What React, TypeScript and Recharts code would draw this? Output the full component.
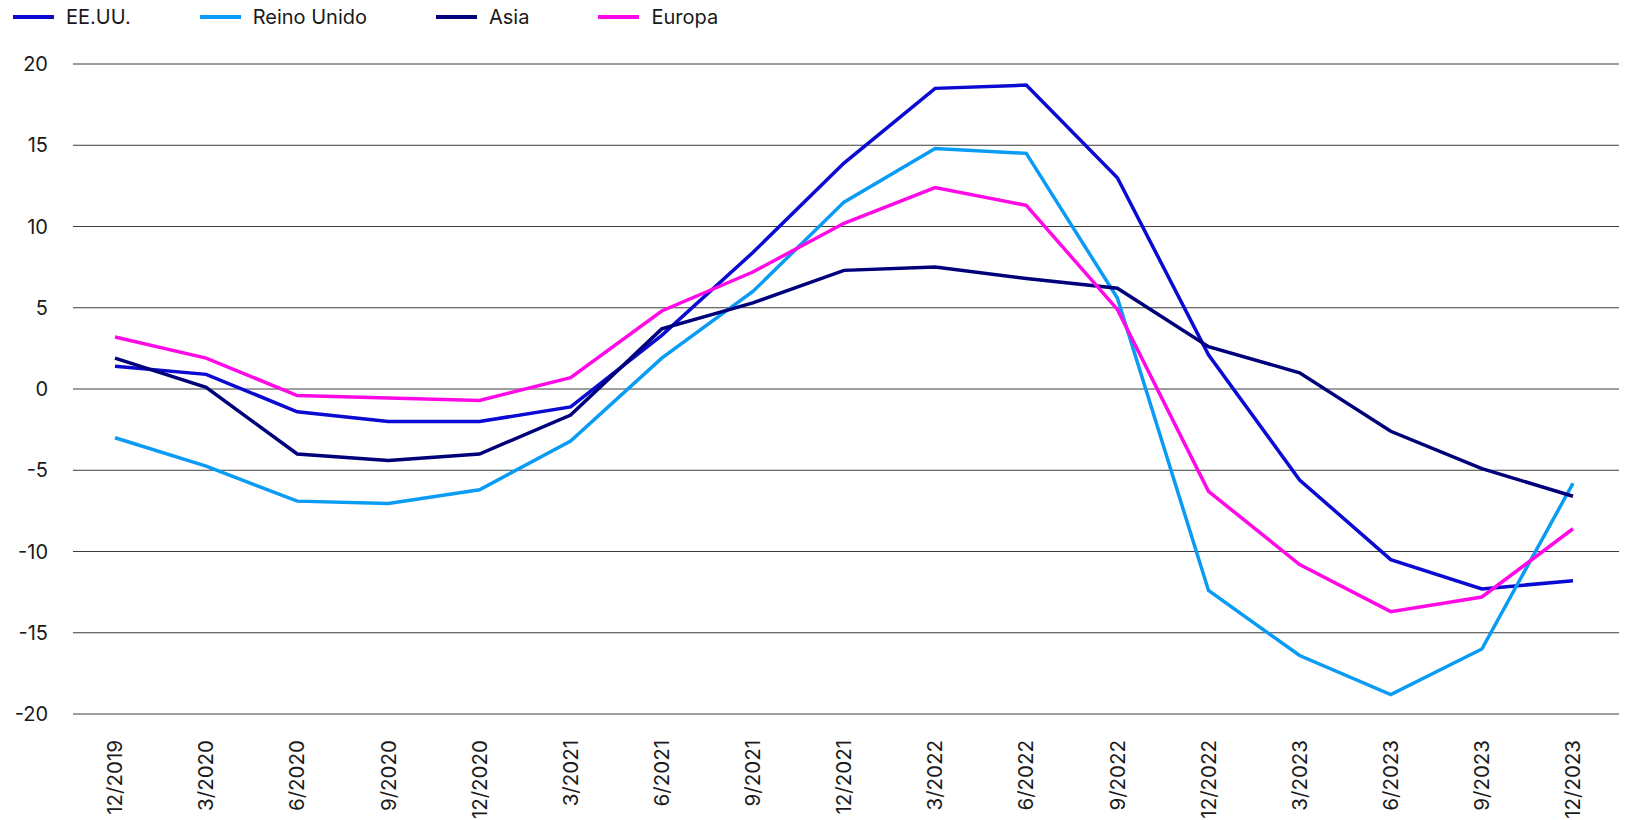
import { LineChart, Line, XAxis, YAxis, CartesianGrid } from "recharts";

const quarters = [
  "12/2019", "3/2020", "6/2020", "9/2020", "12/2020", "3/2021", "6/2021", "9/2021", "12/2021",
  "3/2022", "6/2022", "9/2022", "12/2022", "3/2023", "6/2023", "9/2023", "12/2023",
];

const usa = [1.4, 0.9, -1.4, -2.0, -2.0, -1.1, 3.3, 8.4, 13.9, 18.5, 18.7, 13.0, 2.1, -5.6, -10.5, -12.3, -11.8];
const uk = [-3.0, -4.75, -6.9, -7.05, -6.2, -3.2, 1.9, 6.0, 11.5, 14.8, 14.5, 5.6, -12.4, -16.4, -18.8, -16.0, -5.8];
const asia = [1.9, 0.1, -4.0, -4.4, -4.0, -1.6, 3.7, 5.3, 7.3, 7.5, 6.8, 6.2, 2.6, 1.0, -2.6, -4.9, -6.6];
const europe = [3.2, 1.9, -0.4, -0.55, -0.7, 0.7, 4.8, 7.2, 10.2, 12.4, 11.3, 4.9, -6.3, -10.8, -13.7, -12.8, -8.6];

const yTicks = [-20, -15, -10, -5, 0, 5, 10, 15, 20];

const series = [
  { key: "usa", name: "EE.UU.", color: "#0a0ad2" },
  { key: "uk", name: "Reino Unido", color: "#0a9cf5" },
  { key: "asia", name: "Asia", color: "#00007a" },
  { key: "europe", name: "Europa", color: "#ff0ae6" },
];

const data = quarters.map((q, i) => ({
  quarter: q,
  usa: usa[i],
  uk: uk[i],
  asia: asia[i],
  europe: europe[i],
}));

const FONT = "Inter, 'Noto Sans', sans-serif";

const XTick = ({ x, y, payload }: any) => (
  <g transform={`translate(${x},${y + 26}) rotate(-90)`}>
    <text x={0} y={0} dy="0.35em" textAnchor="end" fill="#1a1a1a" fontSize={20.5} fontFamily={FONT}>
      {payload.value}
    </text>
  </g>
);

export default function App() {
  return (
    <div style={{ position: "absolute", left: 0, top: 0, width: 1626, height: 820, fontFamily: FONT, background: "#fff" }}>
      <div style={{ position: "absolute", left: 13, top: 5, display: "flex", gap: 69, alignItems: "center" }}>
        {series.map((s) => (
          <div key={s.key} style={{ display: "flex", alignItems: "center", gap: 12 }}>
            <span style={{ display: "inline-block", width: 41, height: 4, background: s.color }} />
            <span style={{ fontSize: 20, color: "#1a1a1a", lineHeight: "24px" }}>{s.name}</span>
          </div>
        ))}
      </div>
      <LineChart width={1626} height={820} data={data} margin={{ top: 64, right: 7, left: 0, bottom: 0 }}>
        <CartesianGrid vertical={false} stroke="#3c3c3c" strokeWidth={1} />
        <XAxis dataKey="quarter" interval={0} height={106} padding={{ left: 42, right: 46 }}
          axisLine={false} tickLine={false} tickSize={0} tickMargin={0} tick={<XTick />} />
        <YAxis type="number" domain={[-20, 20]} ticks={yTicks} width={73} interval={0}
          axisLine={false} tickLine={false} tickSize={0} tickMargin={25}
          tick={{ fill: "#1a1a1a", fontSize: 20, fontFamily: FONT }} />
        {series.map((s) => (
          <Line key={s.key} dataKey={s.key} name={s.name} stroke={s.color} strokeWidth={3.5}
            dot={false} type="linear" isAnimationActive={false} />
        ))}
      </LineChart>
    </div>
  );
}
